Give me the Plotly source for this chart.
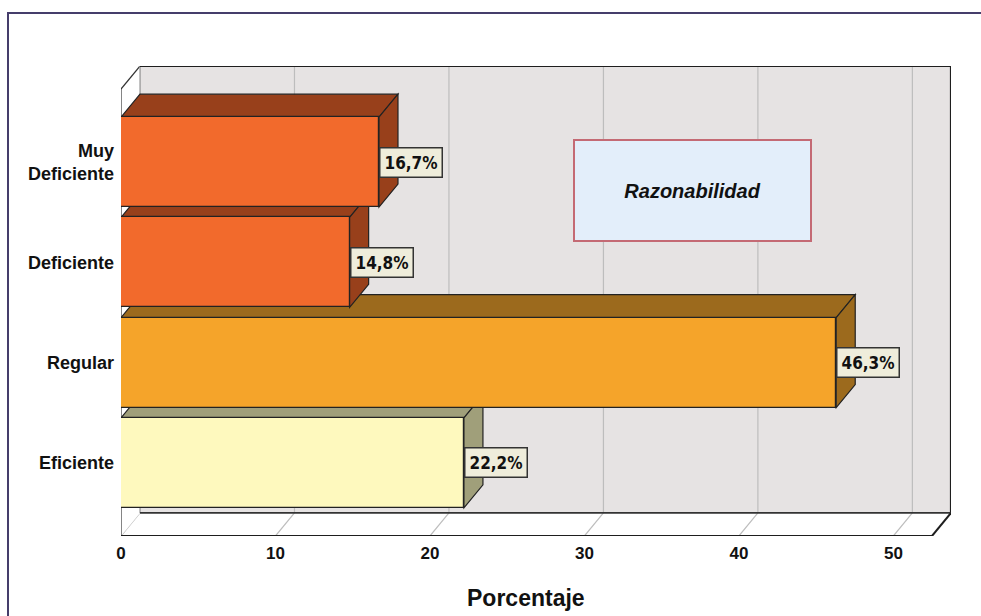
import plotly.graph_objects as go

# ---- data -------------------------------------------------------------
categories = ["Muy<br>Deficiente", "Deficiente", "Regular", "Eficiente"]
percentages = [16.7, 14.8, 46.3, 22.2]
value_labels = ["16,7%", "14,8%", "46,3%", "22,2%"]
x_ticks = [0, 10, 20, 30, 40, 50]
legend_title = "Razonabilidad"
x_title = "Porcentaje"

# ---- styling ----------------------------------------------------------
front_colors = ["#F26A2C", "#F26A2C", "#F5A42A", "#FEF9BE"]
shade_colors = ["#98401B", "#98401B", "#9C6A1D", "#A09F7A"]
FONT = "Liberation Sans, Arial, sans-serif"
NARROW = "DejaVu Sans Condensed, Liberation Sans Narrow, Arial Narrow, Liberation Sans, sans-serif"

W, H = 981, 616
M_L, M_R, M_T, M_B = 121, 30, 66, 80
PW, PH = W - M_L - M_R, H - M_T - M_B

# 3-D box geometry (in axis units)
FRONT_XMAX = 52.5      # right end of the front plane
DX = 1.23              # depth offset along x
DY = 0.23              # depth offset along the category axis
Y_LO = -0.73           # front floor
Y_HI = 3.73            # front top
BAR_HALF = 0.449

n = len(categories)
y_pos = [n - 1 - i for i in range(n)]   # first category drawn on top


def px2paper(px, py):
    return (px - M_L) / PW, (H - M_B - py) / PH


def poly(pts):
    return "M " + " L ".join(f"{x},{y}" for x, y in pts) + " Z"


shapes = []
GRID = "#BDBDBD"
EDGE = "#1E1E1E"

# back wall
shapes.append(dict(type="path", xref="x", yref="y", layer="below",
                   path=poly([(DX, Y_LO + DY), (DX, Y_HI + DY),
                              (FRONT_XMAX + DX, Y_HI + DY), (FRONT_XMAX + DX, Y_LO + DY)]),
                   fillcolor="#E6E3E3", line=dict(width=0)))
# back wall gridlines
for t in x_ticks:
    shapes.append(dict(type="line", xref="x", yref="y", layer="below",
                       x0=t + DX, x1=t + DX, y0=Y_LO + DY, y1=Y_HI + DY,
                       line=dict(color=GRID, width=1.2)))
# floor
shapes.append(dict(type="path", xref="x", yref="y", layer="below",
                   path=poly([(0, Y_LO), (DX, Y_LO + DY),
                              (FRONT_XMAX + DX, Y_LO + DY), (FRONT_XMAX, Y_LO)]),
                   fillcolor="white", line=dict(width=0)))
for t in x_ticks:
    shapes.append(dict(type="line", xref="x", yref="y", layer="below",
                       x0=t, x1=t + DX, y0=Y_LO, y1=Y_LO + DY,
                       line=dict(color=GRID, width=1.2)))
# left wall
shapes.append(dict(type="path", xref="x", yref="y", layer="below",
                   path=poly([(0, Y_LO), (0, Y_HI), (DX, Y_HI + DY), (DX, Y_LO + DY)]),
                   fillcolor="white", line=dict(width=0)))
# box edges
edges = [
    ((0, Y_LO), (0, Y_HI), 1.2, "#333333"),
    ((0, Y_HI), (DX, Y_HI + DY), 1.2, "#333333"),
    ((DX, Y_LO + DY), (DX, Y_HI + DY), 1.2, "#9A9A9A"),
    ((DX, Y_HI + DY), (FRONT_XMAX + DX, Y_HI + DY), 2.2, EDGE),
    ((FRONT_XMAX + DX, Y_HI + DY), (FRONT_XMAX + DX, Y_LO + DY), 2.2, EDGE),
    ((DX, Y_LO + DY), (FRONT_XMAX + DX, Y_LO + DY), 1.8, "#333333"),
    ((0, Y_LO), (FRONT_XMAX, Y_LO), 2.0, EDGE),
    ((FRONT_XMAX, Y_LO), (FRONT_XMAX + DX, Y_LO + DY), 2.0, EDGE),
]
for (x0, y0), (x1, y1), w, c in edges:
    shapes.append(dict(type="line", xref="x", yref="y", layer="below",
                       x0=x0, y0=y0, x1=x1, y1=y1, line=dict(color=c, width=w)))

# bar top and side faces, lowest bar first so upper bars overlap correctly
for i in sorted(range(n), key=lambda k: y_pos[k]):
    v, yc = percentages[i], y_pos[i]
    lo, hi = yc - BAR_HALF, yc + BAR_HALF
    shapes.append(dict(type="path", xref="x", yref="y", layer="below",
                       path=poly([(0, hi), (v, hi), (v + DX, hi + DY), (DX, hi + DY)]),
                       fillcolor=shade_colors[i], line=dict(color="#222222", width=1.2)))
    shapes.append(dict(type="path", xref="x", yref="y", layer="below",
                       path=poly([(v, lo), (v, hi), (v + DX, hi + DY), (v + DX, lo + DY)]),
                       fillcolor=shade_colors[i], line=dict(color="#222222", width=1.2)))

# outer frame
fx0, fy0 = px2paper(8, 13)
fx1, fy1 = px2paper(W + 20, H + 20)
shapes.append(dict(type="path", xref="paper", yref="paper", layer="above",
                   path=f"M {fx0},{fy1} L {fx0},{fy0} L {fx1},{fy0}",
                   line=dict(color="#453D6B", width=2)))

fig = go.Figure()
fig.add_trace(go.Bar(
    x=percentages, y=y_pos, orientation="h", width=2 * BAR_HALF,
    marker=dict(color=front_colors, line=dict(color="#222222", width=1.2)),
    hoverinfo="skip", showlegend=False,
))

annotations = []
for i in range(n):
    annotations.append(dict(
        x=percentages[i], y=y_pos[i], xref="x", yref="y",
        text=f"<b>{value_labels[i]}</b>", showarrow=False,
        xanchor="left", yanchor="middle",
        font=dict(family=NARROW, size=17, color="#111111"),
        bgcolor="#EFEDDB", bordercolor="#333333", borderwidth=1.5, borderpad=4,
    ))

bx, by = px2paper(692.5, 190.5)
annotations.append(dict(
    x=bx, y=by, xref="paper", yref="paper", showarrow=False,
    text=f"<b><i>{legend_title}</i></b>", width=233, height=97,
    xanchor="center", yanchor="middle", align="center", valign="middle",
    font=dict(family=FONT, size=20, color="#111111"),
    bgcolor="#E3EEFA", bordercolor="#C46A74", borderwidth=2,
))

tx, ty = px2paper(M_L + (FRONT_XMAX / (FRONT_XMAX + DX)) * PW / 2, 598)
annotations.append(dict(
    x=tx, y=ty, xref="paper", yref="paper", showarrow=False,
    text=f"<b>{x_title}</b>", xanchor="center", yanchor="middle",
    font=dict(family=FONT, size=23, color="#111111"),
))

fig.update_layout(
    width=W, height=H,
    margin=dict(l=M_L, r=M_R, t=M_T, b=M_B, pad=0),
    paper_bgcolor="white", plot_bgcolor="white",
    shapes=shapes, annotations=annotations,
    bargap=0,
    xaxis=dict(range=[0, FRONT_XMAX + DX], tickvals=x_ticks,
               ticktext=[f"<b>{t}</b>" for t in x_ticks],
               showgrid=False, zeroline=False, showline=False, ticks="",
               ticklabelstandoff=5,
               tickfont=dict(family=FONT, size=17, color="#111111"),
               fixedrange=True),
    yaxis=dict(range=[Y_LO, Y_HI + DY], tickvals=y_pos,
               ticktext=[f"<b>{c}</b>" for c in categories],
               showgrid=False, zeroline=False, showline=False, ticks="",
               ticklabelstandoff=6,
               tickfont=dict(family=FONT, size=18, color="#111111"),
               fixedrange=True),
)

fig.write_html("out.html")
